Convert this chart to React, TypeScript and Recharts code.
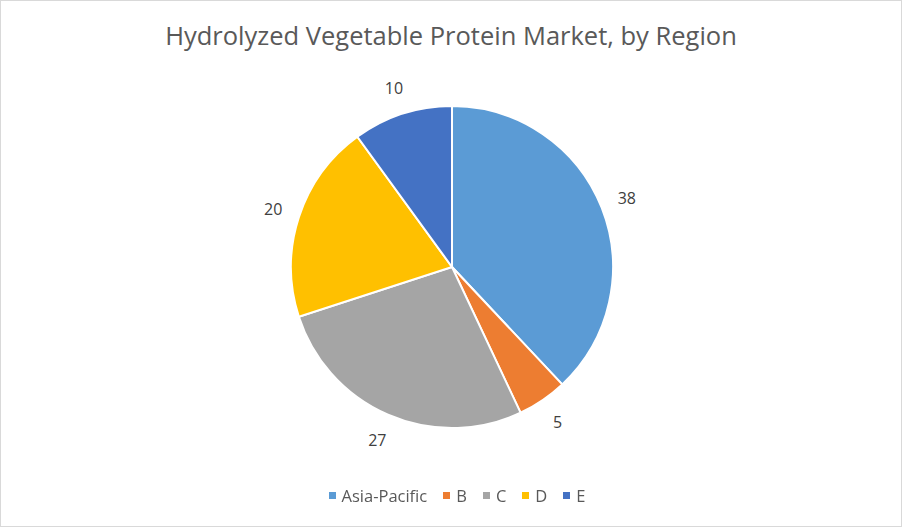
import React from "react"
import { PieChart, Pie, Cell, Legend } from "recharts"

const regions = ["Asia-Pacific", "B", "C", "D", "E"]
const shares = [38, 5, 27, 20, 10]
const sliceColors = ["#5B9BD5", "#ED7D31", "#A5A5A5", "#FFC000", "#4472C4"]

const data = regions.map((name, i) => ({ name, value: shares[i] }))

const RADIAN = Math.PI / 180

function renderLabel({ cx, cy, midAngle, outerRadius, value }: any) {
  const r = outerRadius + 27
  const x = cx + r * Math.cos(-midAngle * RADIAN)
  const y = cy + r * Math.sin(-midAngle * RADIAN)
  return (
    <text x={x} y={y} fill="#404040" fontSize={16} textAnchor="middle" dominantBaseline="central">
      {value}
    </text>
  )
}

// legend laid out by hand so the spacing matches the original
function LegendContent() {
  return (
    <div style={{ display: "flex", justifyContent: "center", alignItems: "center" }}>
      {regions.map((name, i) => (
        <div key={name} style={{ display: "flex", alignItems: "center", marginRight: i < regions.length - 1 ? 16 : 0 }}>
          <span style={{ width: 7, height: 7, background: sliceColors[i], marginRight: 6, display: "inline-block" }} />
          <span style={{ color: "#595959", fontSize: 16.5 }}>{name}</span>
        </div>
      ))}
    </div>
  )
}

export default function App() {
  return (
    <div
      style={{
        position: "fixed",
        left: 0,
        top: 0,
        width: 902,
        height: 527,
        background: "#fff",
        boxSizing: "border-box",
        border: "1px solid #d9d9d9",
        fontFamily: "'Open Sans', 'Liberation Sans', sans-serif",
      }}
    >
      <div
        style={{
          position: "absolute",
          top: 17,
          left: 0,
          width: 900,
          textAlign: "center",
          fontSize: 25.5,
          color: "#595959",
        }}
      >
        Hydrolyzed Vegetable Protein Market, by Region
      </div>
      <div style={{ position: "absolute", left: -1, top: -1 }}>
        <PieChart width={902} height={527}>
          <Pie
            data={data}
            dataKey="value"
            nameKey="name"
            cx={447}
            cy={262}
            outerRadius={161}
            startAngle={90}
            endAngle={-270}
            stroke="#ffffff"
            strokeWidth={2}
            label={renderLabel}
            labelLine={false}
            isAnimationActive={false}
          >
            {data.map((_, i) => (
              <Cell key={i} fill={sliceColors[i]} />
            ))}
          </Pie>
          <Legend
            verticalAlign="bottom"
            align="center"
            content={<LegendContent />}
            wrapperStyle={{ bottom: 20, left: 6, width: 902 }}
          />
        </PieChart>
      </div>
    </div>
  )
}
